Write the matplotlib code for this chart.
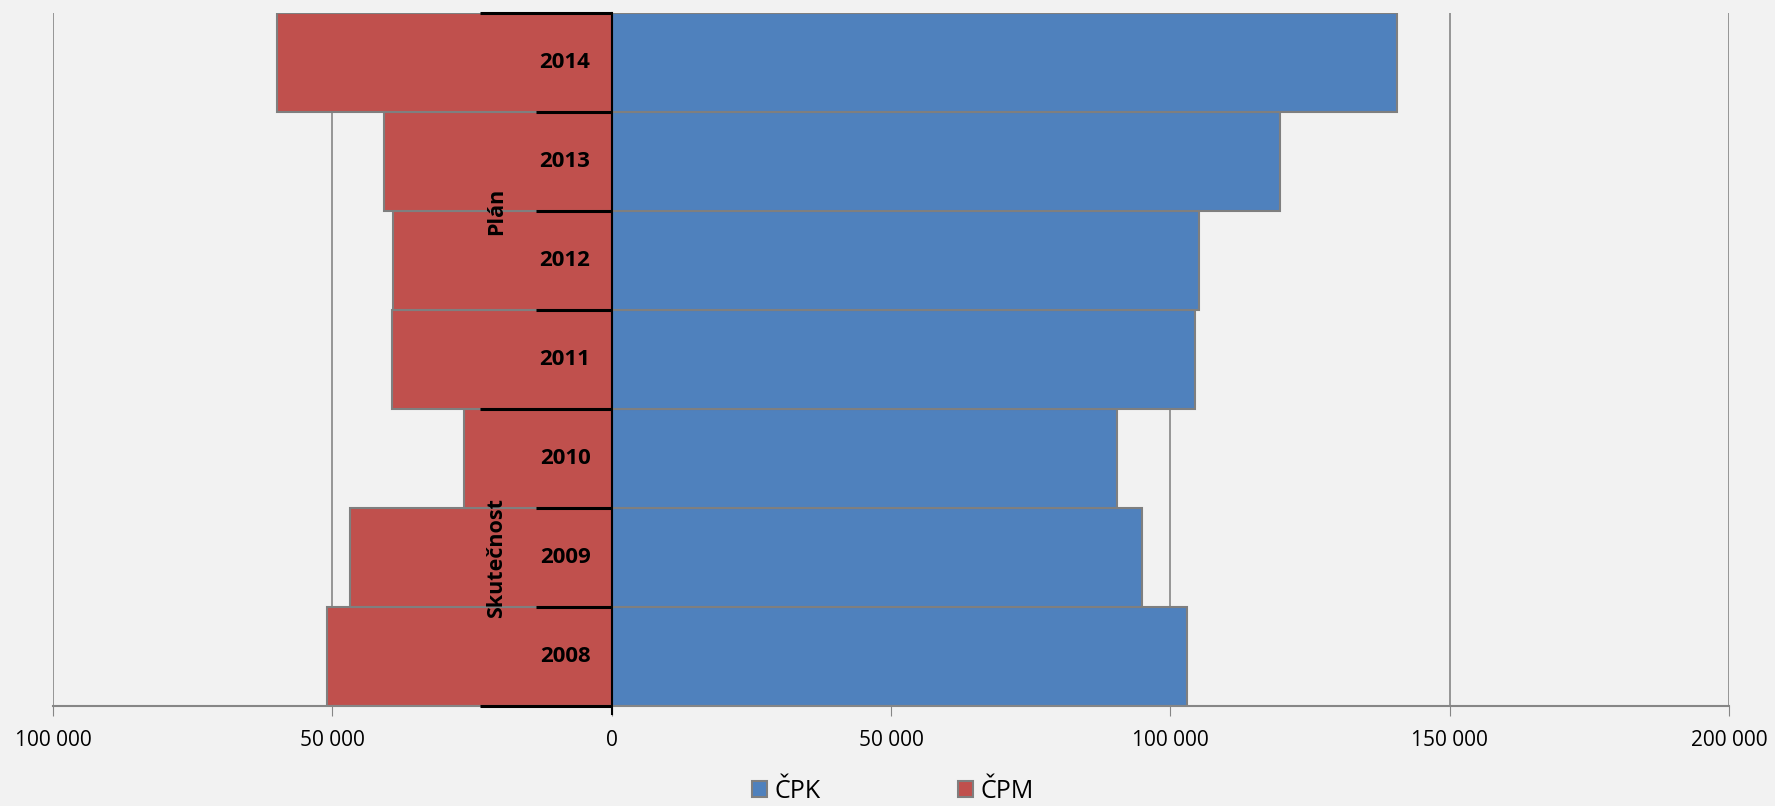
import matplotlib
matplotlib.use("Agg")
import matplotlib.pyplot as plt
from matplotlib.ticker import FuncFormatter

years = ["2008", "2009", "2010", "2011", "2012", "2013", "2014"]
cpk = [103000, 94900, 90400, 104400, 105200, 119600, 140500]
cpm = [50900, 46800, 26400, 39300, 39100, 40700, 60000]
groups = [("Skutečnost", 3), ("Plán", 4)]
xticks = [-100000, -50000, 0, 50000, 100000, 150000, 200000]

plt.rcParams['font.family'] = ['Open Sans', 'DejaVu Sans']
bg = "#F2F2F2"
fig = plt.figure(figsize=(17.75, 8.06), dpi=100, facecolor=bg)
ax = fig.add_axes([0.0299, 0.124, 0.9442, 0.860], facecolor=bg)

pos = list(range(len(years)))
ax.barh(pos, cpk, height=1.0, color="#4F81BD", edgecolor="#7F7F7F", linewidth=1.5, label="ČPK", zorder=2)
ax.barh(pos, [-v for v in cpm], height=1.0, color="#C0504D", edgecolor="#7F7F7F", linewidth=1.5, label="ČPM", zorder=2)

ax.set_xlim(xticks[0], xticks[-1])
ax.set_ylim(-0.5, len(years) - 0.5)
ax.set_xticks(xticks)
ax.xaxis.set_major_formatter(FuncFormatter(lambda v, p: f"{abs(int(v)):,}".replace(",", " ")))
ax.tick_params(axis='x', length=7, color="#868686", labelsize=15, pad=10)
ax.set_yticks([])
for s in ["top", "right", "left"]:
    ax.spines[s].set_visible(False)
ax.spines["bottom"].set_color("#868686")
ax.spines["bottom"].set_linewidth(1.5)
for x in xticks:
    if x != 0:
        ax.axvline(x, color="#868686", lw=1.2, zorder=1)

# category axis at 0
ax.plot([0, 0], [-0.58, len(years) - 0.5], color="black", lw=1.5, zorder=4, clip_on=False)
short, long_ = 13600, 23600
bounds = []
b = -0.5
for name, n in groups:
    bounds.append(b)
    b += n
bounds.append(b)
for i in range(len(years) + 1):
    y = i - 0.5
    L = long_ if y in bounds else short
    ax.plot([-L, 0], [y, y], color="black", lw=2.2, zorder=4, solid_capstyle="butt", clip_on=False)
for i, yr in enumerate(years):
    ax.text(-3800, i, yr, ha="right", va="center", fontsize=16, fontweight="bold", zorder=5)
start = -0.5
for name, n in groups:
    ax.text(-20600, start + n / 2, name, rotation=90, ha="center", va="center",
            fontsize=15.5, fontweight="bold", zorder=5)
    start += n

leg = fig.legend(loc="center", bbox_to_anchor=(0.503, 0.018), ncol=2, frameon=False,
                 fontsize=18, handlelength=0.6, handleheight=0.6, columnspacing=5.5, handletextpad=0.3)
fig.savefig("out.png", dpi=100, facecolor=bg)
